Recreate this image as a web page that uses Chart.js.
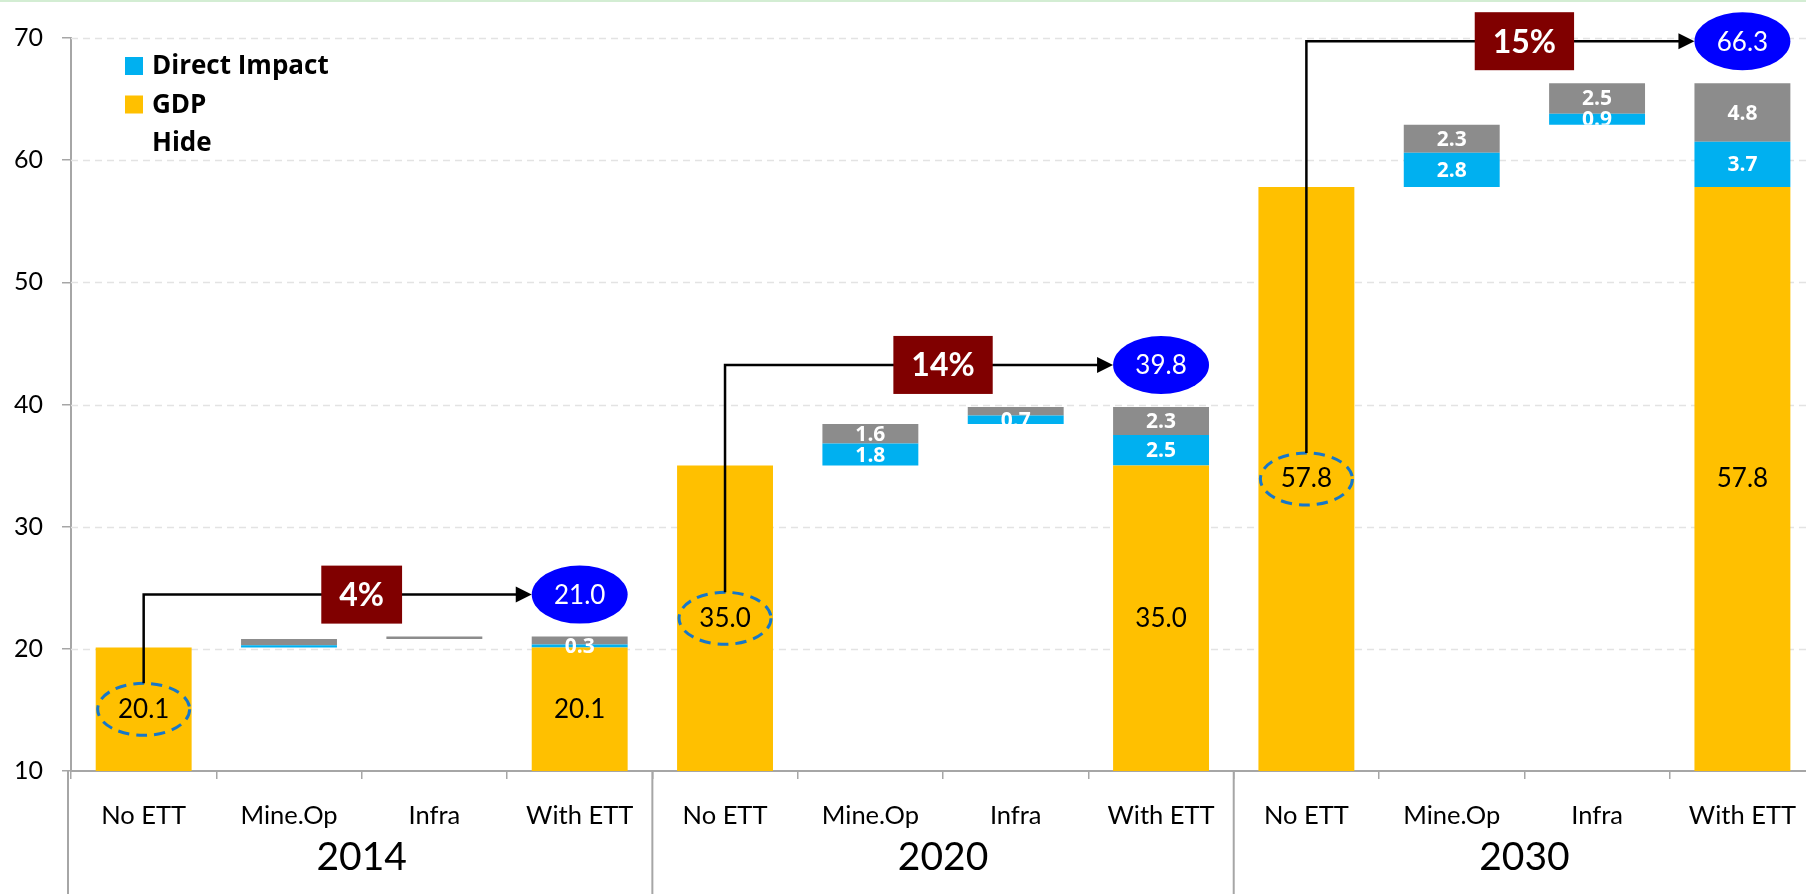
<!DOCTYPE html>
<html>
<head>
<meta charset="utf-8">
<script src="https://cdn.jsdelivr.net/npm/chart.js@4.4.0/dist/chart.umd.min.js"></script>
<style>
  html, body { margin: 0; padding: 0; background: #fff; overflow: hidden; }
  #wrap { position: relative; width: 1817px; height: 894px; }
  #topline { position: absolute; left: 0; top: 0; width: 1806px; height: 2px; background: #d3edd3; z-index: 2; }
</style>
</head>
<body>
<div id="topline"></div>
<div id="wrap"><canvas id="waterfall"></canvas></div>
<script>
// categories
const years = ["2014", "2020", "2030"];
const steps = ["No ETT", "Mine.Op", "Infra", "With ETT"];
const labels = years.flatMap(() => steps);

// series (12 bars: 4 steps per year)
const hide     = [0, 20.1, 20.8, 0,    0, 35.0, 38.4, 0,    0, 57.8, 62.9, 0];
const gdp      = [20.1, 0, 0, 20.1,    35.0, 0, 0, 35.0,    57.8, 0, 0, 57.8];
const direct   = [0, 0.2, 0.0, 0.26,   0, 1.8, 0.7, 2.5,    0, 2.8, 0.9, 3.7];
const indirect = [0, 0.5, 0.2, 0.64,   0, 1.6, 0.7, 2.3,    0, 2.3, 2.5, 4.8];

const yTicks = [10, 20, 30, 40, 50, 60, 70];

const COLORS = {
  gdp: "#FFC000",
  direct: "#00B0F0",
  indirect: "#8C8C8C",
  box: "#800000",
  total: "#0000FF",
  ring: "#1677C9",
  axis: "#A6A6A6",
  grid: "#E3E3E3"
};

const FONT = "Lato";
const BOLD = "'Open Sans'";

// dashed horizontal gridlines
const gridPlugin = {
  id: "dashGrid",
  beforeDatasetsDraw(chart) {
    const { ctx, chartArea: a, scales: { y } } = chart;
    ctx.save();
    ctx.strokeStyle = COLORS.grid;
    ctx.lineWidth = 1.5;
    ctx.setLineDash([7, 5]);
    yTicks.forEach(v => {
      if (v === y.min) return;
      const py = Math.round(y.getPixelForValue(v)) + 0.5;
      ctx.beginPath();
      ctx.moveTo(a.left, py);
      ctx.lineTo(a.right, py);
      ctx.stroke();
    });
    ctx.restore();
  }
};

function visibleColumn(chart, j) {
  const a = chart.chartArea;
  let top = Infinity, bottom = -Infinity;
  [1, 2, 3].forEach(i => {
    const v = chart.data.datasets[i].data[j];
    if (!v) return;
    const el = chart.getDatasetMeta(i).data[j];
    top = Math.min(top, el.y);
    bottom = Math.max(bottom, Math.min(el.base, a.bottom));
  });
  return { top, bottom };
}

const labelPlugin = {
  id: "barLabels",
  afterDatasetsDraw(chart) {
    const { ctx, chartArea: a, scales: { x } } = chart;
    ctx.save();
    ctx.textAlign = "center";
    ctx.textBaseline = "middle";

    // impact segment labels (white bold), clipped to the visible column
    labels.forEach((_, j) => {
      const col = visibleColumn(chart, j);
      [[2, 0.25], [3, 1.0]].forEach(([i, minVal]) => {
        const v = chart.data.datasets[i].data[j];
        if (!v || v < minVal) return;
        const el = chart.getDatasetMeta(i).data[j];
        ctx.save();
        ctx.beginPath();
        ctx.rect(el.x - el.width / 2, col.top, el.width, col.bottom - col.top);
        ctx.clip();
        ctx.fillStyle = "#fff";
        ctx.font = "bold 21px " + BOLD;
        ctx.fillText(v.toFixed(1), el.x, (el.y + el.base) / 2 + 1);
        ctx.restore();
      });
    });

    // GDP labels
    gdp.forEach((v, j) => {
      if (!v) return;
      const el = chart.getDatasetMeta(1).data[j];
      const cy = (el.y + Math.min(el.base, a.bottom)) / 2;
      ctx.fillStyle = "#000";
      ctx.font = "26px " + FONT;
      ctx.fillText(v.toFixed(1), el.x, cy);
    });

    // growth connectors per year
    years.forEach((yr, g) => {
      const noIdx = g * 4, withIdx = g * 4 + 3;
      const total = gdp[withIdx] + direct[withIdx] + indirect[withIdx];
      const pct = Math.round((total / gdp[noIdx] - 1) * 100);
      const noEl = chart.getDatasetMeta(1).data[noIdx];
      const withEl = chart.getDatasetMeta(3).data[withIdx];
      const lineY = withEl.y - 42;
      const cx = noEl.x;
      const cy = (noEl.y + Math.min(noEl.base, a.bottom)) / 2;
      const rx = 46, ry = 26;

      // dashed ring around starting value
      ctx.save();
      ctx.strokeStyle = COLORS.ring;
      ctx.lineWidth = 3;
      ctx.setLineDash([11, 7]);
      ctx.beginPath();
      ctx.ellipse(cx, cy, rx, ry, 0, 0, Math.PI * 2);
      ctx.stroke();
      ctx.restore();

      // elbow arrow
      const tipX = withEl.x - withEl.width / 2;
      ctx.strokeStyle = "#000";
      ctx.lineWidth = 2.5;
      ctx.beginPath();
      ctx.moveTo(cx, cy - ry);
      ctx.lineTo(cx, lineY);
      ctx.lineTo(tipX - 14, lineY);
      ctx.stroke();
      ctx.fillStyle = "#000";
      ctx.beginPath();
      ctx.moveTo(tipX, lineY);
      ctx.lineTo(tipX - 16, lineY - 8);
      ctx.lineTo(tipX - 16, lineY + 8);
      ctx.closePath();
      ctx.fill();

      // growth box
      const bx = (x.getPixelForValue(g * 4 + 1) + x.getPixelForValue(g * 4 + 2)) / 2;
      ctx.font = "bold 32px " + FONT;
      const txt = pct + "%";
      const bw = ctx.measureText(txt).width + 36;
      ctx.fillStyle = COLORS.box;
      ctx.fillRect(bx - bw / 2, lineY - 29, bw, 58);
      ctx.fillStyle = "#fff";
      ctx.fillText(txt, bx, lineY + 1);

      // total bubble
      ctx.fillStyle = COLORS.total;
      ctx.beginPath();
      ctx.ellipse(withEl.x, lineY, withEl.width / 2, 29, 0, 0, Math.PI * 2);
      ctx.fill();
      ctx.fillStyle = "#fff";
      ctx.font = "26px " + FONT;
      ctx.fillText(total.toFixed(1), withEl.x, lineY + 1);
    });
    ctx.restore();
  },
  afterDraw(chart) {
    const { ctx, chartArea: a, scales: { x } } = chart;
    const catW = x.width / labels.length;
    ctx.save();

    // year separators and year labels
    ctx.strokeStyle = COLORS.axis;
    ctx.lineWidth = 2;
    ctx.fillStyle = "#000";
    ctx.font = "39px " + FONT;
    ctx.textAlign = "center";
    ctx.textBaseline = "middle";
    years.forEach((yr, g) => {
      const left = x.getPixelForValue(g * 4) - catW / 2;
      const sx = g === 0 ? left - 3 : left;
      ctx.beginPath();
      ctx.moveTo(sx, a.bottom);
      ctx.lineTo(sx, chart.height);
      ctx.stroke();
      ctx.fillText(yr, left + catW * 2, 857);
    });

    // legend (stack order reversed, grey series left out)
    const items = [2, 1, 0].map(i => chart.data.datasets[i]);
    ctx.textAlign = "left";
    ctx.font = "bold 26px " + BOLD;
    items.forEach((ds, k) => {
      const ly = 66 + k * 38.5;
      ctx.fillStyle = ds.backgroundColor;
      ctx.fillRect(125, ly - 9, 18, 18);
      ctx.fillStyle = "#000";
      ctx.fillText(ds.label, 152, ly + 1);
    });
    ctx.restore();
  }
};

const ctx = document.getElementById("waterfall").getContext("2d");
new Chart(ctx, {
  type: "bar",
  data: {
    labels,
    datasets: [
      { label: "Hide", data: hide, backgroundColor: "rgba(0,0,0,0)" },
      { label: "GDP", data: gdp, backgroundColor: COLORS.gdp },
      { label: "Direct Impact", data: direct, backgroundColor: COLORS.direct },
      { label: "Indirect Impact", data: indirect, backgroundColor: COLORS.indirect }
    ]
  },
  options: {
    responsive: true,
    maintainAspectRatio: false,
    animation: false,
    layout: { padding: { top: 38, left: 0, right: 0, bottom: 0 } },
    datasets: { bar: { barPercentage: 0.66, categoryPercentage: 1 } },
    plugins: { legend: { display: false }, tooltip: { enabled: false } },
    scales: {
      x: {
        stacked: true,
        grid: { offset: true, drawOnChartArea: false, tickLength: 8, color: COLORS.axis, lineWidth: 1.5 },
        border: { color: COLORS.axis, width: 2 },
        ticks: { font: { family: FONT, size: 25.5 }, color: "#000", padding: 21, maxRotation: 0, autoSkip: false },
        afterFit(scale) { scale.height = 123; }
      },
      y: {
        stacked: true,
        min: 10,
        max: 70,
        afterBuildTicks(scale) { scale.ticks = yTicks.map(v => ({ value: v })); },
        grid: { drawOnChartArea: false, tickLength: 9, color: COLORS.axis, lineWidth: 1.5 },
        border: { color: COLORS.axis, width: 2 },
        ticks: { font: { family: FONT, size: 25 }, color: "#000", padding: 19 },
        afterFit(scale) { scale.width = 71; }
      }
    }
  },
  plugins: [gridPlugin, labelPlugin]
});
</script>
</body>
</html>
